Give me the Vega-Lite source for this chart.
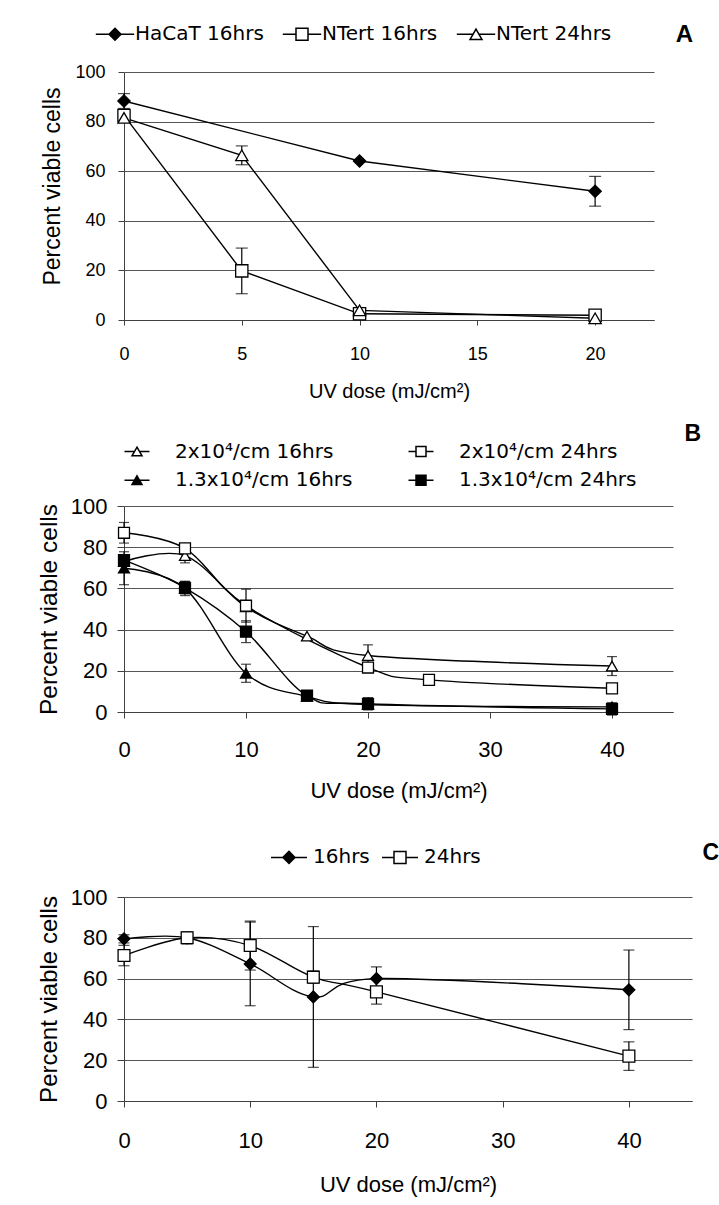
{
  "$schema": "https://vega.github.io/schema/vega-lite/v6.json",
  "padding": {"left": 36, "top": 23, "right": 0, "bottom": 5},
  "background": "white",
  "spacing": 21,
  "config": {
    "view": {"stroke": null},
    "axis": {"labelColor": "black", "titleColor": "black", "domainColor": "#404040", "tickColor": "#404040", "gridColor": "#555555", "gridOpacity": 1, "domainWidth": 1, "tickWidth": 1, "gridWidth": 1, "labelFont": "Liberation Sans", "titleFont": "Liberation Sans", "titleFontWeight": "normal", "labelFlush": false, "labelOverlap": false},
    "axisX": {"grid": false},
    "axisY": {"grid": true},
    "title": {"font": "Liberation Sans", "fontWeight": "bold", "color": "black", "anchor": "end", "frame": "group"},
    "legend": {"labelColor": "black", "labelFont": "DejaVu Sans", "labelFontSize": 20, "padding": 0, "labelLimit": 500, "symbolStrokeColor": "black", "symbolStrokeWidth": 1.5, "title": null}
  },
  "resolve": {"scale": {"x": "independent", "y": "independent", "shape": "independent", "fill": "independent", "stroke": "independent"}, "legend": {"shape": "independent", "fill": "independent", "stroke": "independent"}},
  "datasets": {
    "A": [
      {"dose": 0, "v": 88.3, "err": 3, "s": "HaCaT 16hrs"},
      {"dose": 10, "v": 64.1, "s": "HaCaT 16hrs"},
      {"dose": 20, "v": 51.9, "err": 6, "s": "HaCaT 16hrs"},
      {"dose": 0, "v": 82.5, "s": "NTert 16hrs"},
      {"dose": 5, "v": 19.8, "err": 9.2, "s": "NTert 16hrs"},
      {"dose": 10, "v": 2.5, "s": "NTert 16hrs"},
      {"dose": 20, "v": 1.9, "s": "NTert 16hrs"},
      {"dose": 0, "v": 81.5, "s": "NTert 24hrs"},
      {"dose": 5, "v": 66.4, "err": 3.8, "s": "NTert 24hrs"},
      {"dose": 10, "v": 3.9, "s": "NTert 24hrs"},
      {"dose": 20, "v": 0.7, "s": "NTert 24hrs"}
    ],
    "B": [
      {"dose": 0, "v": 73, "s": "2x10⁴/cm 16hrs"},
      {"dose": 5, "v": 75.9, "err": 3.5, "s": "2x10⁴/cm 16hrs"},
      {"dose": 10, "v": 51, "s": "2x10⁴/cm 16hrs"},
      {"dose": 15, "v": 36.8, "s": "2x10⁴/cm 16hrs"},
      {"dose": 20, "v": 27.4, "err": 5.2, "s": "2x10⁴/cm 16hrs"},
      {"dose": 40, "v": 22.3, "err": 4.6, "s": "2x10⁴/cm 16hrs"},
      {"dose": 0, "v": 87, "err": 5, "s": "2x10⁴/cm 24hrs"},
      {"dose": 5, "v": 79.4, "err": 2, "s": "2x10⁴/cm 24hrs"},
      {"dose": 10, "v": 51.6, "err": 8, "s": "2x10⁴/cm 24hrs"},
      {"dose": 20, "v": 21.6, "s": "2x10⁴/cm 24hrs"},
      {"dose": 25, "v": 15.6, "s": "2x10⁴/cm 24hrs"},
      {"dose": 40, "v": 11.5, "s": "2x10⁴/cm 24hrs"},
      {"dose": 0, "v": 69.8, "err": 8, "s": "1.3x10⁴/cm 16hrs"},
      {"dose": 5, "v": 60, "err": 3.5, "s": "1.3x10⁴/cm 16hrs"},
      {"dose": 10, "v": 18.8, "err": 4.4, "s": "1.3x10⁴/cm 16hrs"},
      {"dose": 15, "v": 7.6, "s": "1.3x10⁴/cm 16hrs"},
      {"dose": 20, "v": 3.6, "s": "1.3x10⁴/cm 16hrs"},
      {"dose": 40, "v": 2.5, "s": "1.3x10⁴/cm 16hrs"},
      {"dose": 0, "v": 73.7, "s": "1.3x10⁴/cm 24hrs"},
      {"dose": 5, "v": 60.3, "err": 3, "s": "1.3x10⁴/cm 24hrs"},
      {"dose": 10, "v": 39, "err": 5.3, "s": "1.3x10⁴/cm 24hrs"},
      {"dose": 15, "v": 7.9, "err": 2, "s": "1.3x10⁴/cm 24hrs"},
      {"dose": 20, "v": 4, "err": 3, "s": "1.3x10⁴/cm 24hrs"},
      {"dose": 40, "v": 1.5, "err": 3, "s": "1.3x10⁴/cm 24hrs"}
    ],
    "C": [
      {"dose": 0, "v": 79.5, "err": 2, "s": "16hrs"},
      {"dose": 5, "v": 80, "err": 3, "s": "16hrs"},
      {"dose": 10, "v": 67.2, "err": 20.5, "s": "16hrs"},
      {"dose": 15, "v": 51, "err": 34.5, "s": "16hrs"},
      {"dose": 20, "v": 60, "err": 5.7, "s": "16hrs"},
      {"dose": 40, "v": 54.5, "err": 19.5, "s": "16hrs"},
      {"dose": 0, "v": 71.3, "err": 5, "s": "24hrs"},
      {"dose": 5, "v": 80, "err": 2.5, "s": "24hrs"},
      {"dose": 10, "v": 76.2, "err": 12, "s": "24hrs"},
      {"dose": 15, "v": 60.7, "err": 3, "s": "24hrs"},
      {"dose": 20, "v": 53.5, "err": 6, "s": "24hrs"},
      {"dose": 40, "v": 22, "err": 7, "s": "24hrs"}
    ]
  },
  "vconcat": [
    {
      "data": {"name": "A"},
      "width": 530,
      "height": 248,
      "title": {"text": "A", "fontSize": 24, "dx": 39, "dy": 27},
      "encoding": {
        "x": {"field": "dose", "type": "quantitative", "scale": {"domain": [0, 22.5], "nice": false}, "axis": {"values": [0, 5, 10, 15, 20], "title": "UV dose (mJ/cm²)", "labelFontSize": 18, "labelPadding": 20, "tickSize": 5, "titleFontSize": 20, "titlePadding": 18}},
        "y": {"field": "v", "type": "quantitative", "scale": {"domain": [0, 100], "nice": false}, "axis": {"values": [0, 20, 40, 60, 80, 100], "title": "Percent viable cells", "titleY": 114, "labelFontSize": 18, "labelPadding": 13, "tickSize": 6, "titleFontSize": 23, "titlePadding": 10}}
      },
      "resolve": {"scale": {"shape": "independent", "fill": "independent", "stroke": "independent"}, "legend": {"shape": "independent", "fill": "independent", "stroke": "independent"}},
      "layer": [
        {"transform": [{"filter": "isValid(datum.err)"}], "mark": {"type": "errorbar", "color": "black", "thickness": 1.2, "ticks": {"size": 12}}, "encoding": {"yError": {"field": "err"}}},
        {"mark": {"type": "line", "color": "black", "strokeWidth": 1.4, "interpolate": "linear"}, "encoding": {"detail": {"field": "s", "type": "nominal"}}},
        {"mark": {"type": "point", "filled": true, "stroke": "black", "strokeWidth": 1.3, "size": 150, "opacity": 1},
         "encoding": {
           "shape": {"field": "s", "type": "nominal", "scale": {"domain": ["HaCaT 16hrs", "NTert 16hrs", "NTert 24hrs"], "range": ["diamond", "square", "triangle-up"]}, "legend": null},
           "fill": {"field": "s", "type": "nominal", "scale": {"domain": ["HaCaT 16hrs", "NTert 16hrs", "NTert 24hrs"], "range": ["black", "white", "white"]}, "legend": null}
         }},
        {"transform": [{"filter": "false"}],
         "mark": {"type": "point", "filled": true, "strokeWidth": 1.5, "opacity": 1},
         "encoding": {
           "shape": {"field": "s", "type": "nominal", "scale": {"domain": ["HaCaT 16hrs", "NTert 16hrs", "NTert 24hrs"], "range": ["M-3.2,0H-1M1,0H3.2M-1,0L0,-1L1,0L0,1Z", "M-3.2,0H-1M1,0H3.2M-1,-1H1V1H-1Z", "M-3.2,0H-0.5M0.5,0H3.2M0,-0.87L1,0.87H-1Z"]},
             "legend": {"orient": "none", "legendX": -19, "legendY": -47.7, "direction": "horizontal", "columns": 3, "symbolSize": 144, "labelOffset": 10, "columnPadding": 15}},
           "fill": {"field": "s", "type": "nominal", "scale": {"domain": ["HaCaT 16hrs", "NTert 16hrs", "NTert 24hrs"], "range": ["black", "white", "white"]},
             "legend": {"orient": "none", "legendX": -19, "legendY": -47.7, "direction": "horizontal", "columns": 3, "symbolSize": 144, "labelOffset": 10, "columnPadding": 15}},
           "stroke": {"field": "s", "type": "nominal", "scale": {"domain": ["HaCaT 16hrs", "NTert 16hrs", "NTert 24hrs"], "range": ["black", "black", "black"]},
             "legend": {"orient": "none", "legendX": -19, "legendY": -47.7, "direction": "horizontal", "columns": 3, "symbolSize": 144, "labelOffset": 10, "columnPadding": 15}}
         }}
      ]
    },
    {
      "data": {"name": "B"},
      "width": 549,
      "height": 206,
      "title": {"text": "B", "fontSize": 23, "dx": 28, "dy": 8},
      "encoding": {
        "x": {"field": "dose", "type": "quantitative", "scale": {"domain": [0, 45], "nice": false}, "axis": {"values": [0, 10, 20, 30, 40], "title": "UV dose (mJ/cm²)", "labelFontSize": 22, "labelPadding": 21, "tickSize": 6, "titleFontSize": 22, "titlePadding": 20}},
        "y": {"field": "v", "type": "quantitative", "scale": {"domain": [0, 100], "nice": false}, "axis": {"values": [0, 20, 40, 60, 80, 100], "title": "Percent viable cells", "labelFontSize": 22, "labelPadding": 10, "tickSize": 7, "titleFontSize": 24.5, "titlePadding": 9}}
      },
      "resolve": {"scale": {"shape": "independent", "fill": "independent", "stroke": "independent"}, "legend": {"shape": "independent", "fill": "independent", "stroke": "independent"}},
      "layer": [
        {"transform": [{"filter": "isValid(datum.err)"}], "mark": {"type": "errorbar", "color": "black", "thickness": 1.2, "ticks": {"size": 10}}, "encoding": {"yError": {"field": "err"}}},
        {"mark": {"type": "line", "color": "black", "strokeWidth": 1.4, "interpolate": "cardinal"}, "encoding": {"detail": {"field": "s", "type": "nominal"}}},
        {"mark": {"type": "point", "filled": true, "stroke": "black", "strokeWidth": 1.3, "size": 120, "opacity": 1},
         "encoding": {
           "shape": {"field": "s", "type": "nominal", "scale": {"domain": ["2x10⁴/cm 16hrs", "2x10⁴/cm 24hrs", "1.3x10⁴/cm 16hrs", "1.3x10⁴/cm 24hrs"], "range": ["triangle-up", "square", "triangle-up", "square"]}, "legend": null},
           "fill": {"field": "s", "type": "nominal", "scale": {"domain": ["2x10⁴/cm 16hrs", "2x10⁴/cm 24hrs", "1.3x10⁴/cm 16hrs", "1.3x10⁴/cm 24hrs"], "range": ["white", "white", "black", "black"]}, "legend": null}
         }},
        {"transform": [{"filter": "false"}],
         "mark": {"type": "point", "filled": true, "strokeWidth": 1.5, "opacity": 1},
         "encoding": {
           "shape": {"field": "s", "type": "nominal", "scale": {"domain": ["2x10⁴/cm 16hrs", "2x10⁴/cm 24hrs", "1.3x10⁴/cm 16hrs", "1.3x10⁴/cm 24hrs"], "range": ["M-2.5,0H-0.5M0.5,0H2.5M0,-0.87L1,0.87H-1Z", "M-2.5,0H-1M1,0H2.5M-1,-1H1V1H-1Z", "M-2.5,0H-0.5M0.5,0H2.5M0,-0.87L1,0.87H-1Z", "M-2.5,0H-1M1,0H2.5M-1,-1H1V1H-1Z"]},
             "legend": {"orient": "none", "legendX": 3, "legendY": -64.5, "direction": "horizontal", "columns": 2, "symbolSize": 100, "labelOffset": 28, "columnPadding": 52, "rowPadding": 8.7}},
           "fill": {"field": "s", "type": "nominal", "scale": {"domain": ["2x10⁴/cm 16hrs", "2x10⁴/cm 24hrs", "1.3x10⁴/cm 16hrs", "1.3x10⁴/cm 24hrs"], "range": ["white", "white", "black", "black"]},
             "legend": {"orient": "none", "legendX": 3, "legendY": -64.5, "direction": "horizontal", "columns": 2, "symbolSize": 100, "labelOffset": 28, "columnPadding": 52, "rowPadding": 8.7}},
           "stroke": {"field": "s", "type": "nominal", "scale": {"domain": ["2x10⁴/cm 16hrs", "2x10⁴/cm 24hrs", "1.3x10⁴/cm 16hrs", "1.3x10⁴/cm 24hrs"], "range": ["black", "black", "black", "black"]},
             "legend": {"orient": "none", "legendX": 3, "legendY": -64.5, "direction": "horizontal", "columns": 2, "symbolSize": 100, "labelOffset": 28, "columnPadding": 52, "rowPadding": 8.7}}
         }}
      ]
    },
    {
      "data": {"name": "C"},
      "width": 568,
      "height": 204,
      "title": {"text": "C", "fontSize": 23, "dx": 27, "dy": 47},
      "encoding": {
        "x": {"field": "dose", "type": "quantitative", "scale": {"domain": [0, 45], "nice": false}, "axis": {"values": [0, 10, 20, 30, 40], "title": "UV dose (mJ/cm²)", "labelFontSize": 22, "labelPadding": 23, "tickSize": 6, "titleFontSize": 22, "titlePadding": 23}},
        "y": {"field": "v", "type": "quantitative", "scale": {"domain": [0, 100], "nice": false}, "axis": {"values": [0, 20, 40, 60, 80, 100], "title": "Percent viable cells", "labelFontSize": 22, "labelPadding": 10, "tickSize": 7, "titleFontSize": 24, "titlePadding": 9}}
      },
      "resolve": {"scale": {"shape": "independent", "fill": "independent", "stroke": "independent"}, "legend": {"shape": "independent", "fill": "independent", "stroke": "independent"}},
      "layer": [
        {"transform": [{"filter": "isValid(datum.err)"}], "mark": {"type": "errorbar", "color": "black", "thickness": 1.2, "ticks": {"size": 11}}, "encoding": {"yError": {"field": "err"}}},
        {"mark": {"type": "line", "color": "black", "strokeWidth": 1.4, "interpolate": "cardinal"}, "encoding": {"detail": {"field": "s", "type": "nominal"}}},
        {"mark": {"type": "point", "filled": true, "stroke": "black", "strokeWidth": 1.3, "size": 140, "opacity": 1},
         "encoding": {
           "shape": {"field": "s", "type": "nominal", "scale": {"domain": ["16hrs", "24hrs"], "range": ["diamond", "square"]}, "legend": null},
           "fill": {"field": "s", "type": "nominal", "scale": {"domain": ["16hrs", "24hrs"], "range": ["black", "white"]}, "legend": null}
         }},
        {"transform": [{"filter": "false"}],
         "mark": {"type": "point", "filled": true, "strokeWidth": 1.5, "opacity": 1},
         "encoding": {
           "shape": {"field": "s", "type": "nominal", "scale": {"domain": ["16hrs", "24hrs"], "range": ["M-3,0H-1M1,0H3M-1,0L0,-1L1,0L0,1Z", "M-3,0H-1M1,0H3M-1,-1H1V1H-1Z"]},
             "legend": {"orient": "none", "legendX": 129.7, "legendY": -74.9, "padding": 25.3, "direction": "horizontal", "columns": 2, "symbolSize": 144, "labelOffset": 14, "columnPadding": 9}},
           "fill": {"field": "s", "type": "nominal", "scale": {"domain": ["16hrs", "24hrs"], "range": ["black", "white"]},
             "legend": {"orient": "none", "legendX": 129.7, "legendY": -74.9, "padding": 25.3, "direction": "horizontal", "columns": 2, "symbolSize": 144, "labelOffset": 14, "columnPadding": 9}},
           "stroke": {"field": "s", "type": "nominal", "scale": {"domain": ["16hrs", "24hrs"], "range": ["black", "black"]},
             "legend": {"orient": "none", "legendX": 129.7, "legendY": -74.9, "padding": 25.3, "direction": "horizontal", "columns": 2, "symbolSize": 144, "labelOffset": 14, "columnPadding": 9}}
         }}
      ]
    }
  ]
}
